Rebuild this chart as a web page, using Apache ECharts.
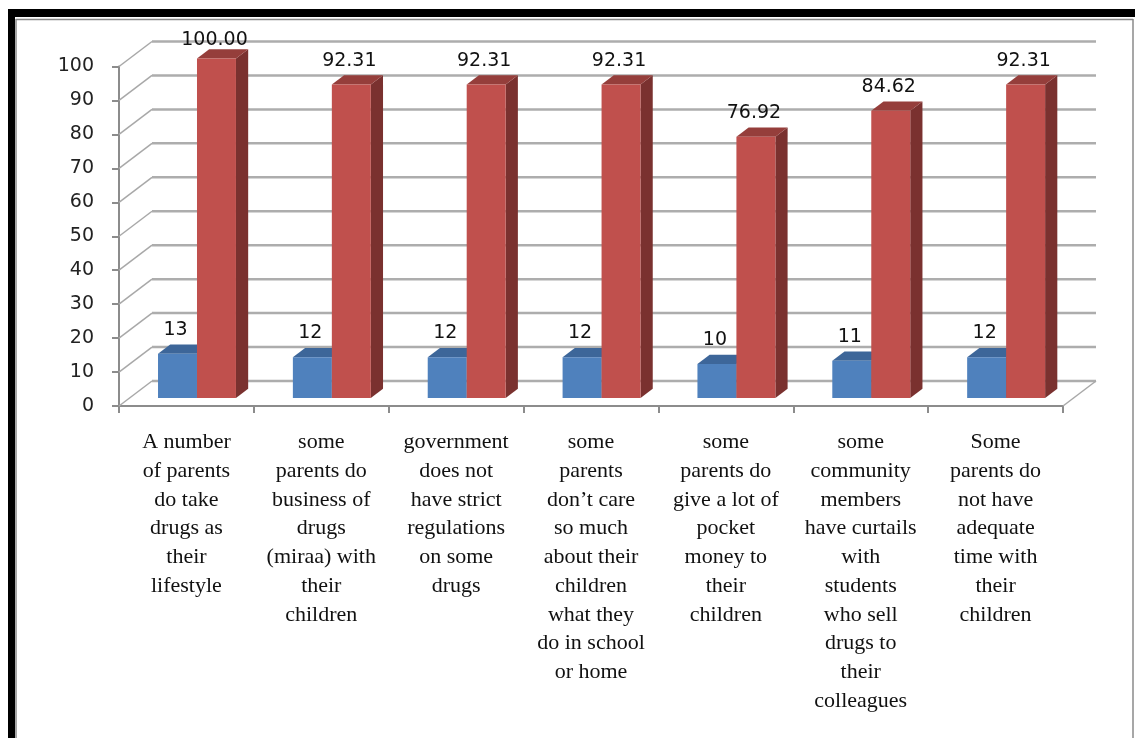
<!DOCTYPE html>
<html>
<head>
<meta charset="utf-8">
<title>Parental factors</title>
<script src="https://cdn.jsdelivr.net/npm/echarts@6/dist/echarts.min.js"></script>
<style>
  html, body { margin: 0; padding: 0; background: #ffffff; }
  #chart { width: 1135px; height: 738px; }
</style>
</head>
<body>
<div id="chart"></div>
<script>
// Category labels (pre-wrapped the way they are laid out under each column)
const categories = [
  'A number\nof parents\ndo take\ndrugs as\ntheir\nlifestyle',
  'some\nparents do\nbusiness of\ndrugs\n(miraa) with\ntheir\nchildren',
  'government\ndoes not\nhave strict\nregulations\non some\ndrugs',
  'some\nparents\ndon\u2019t care\nso much\nabout their\nchildren\nwhat they\ndo in school\nor home',
  'some\nparents do\ngive a lot of\npocket\nmoney to\ntheir\nchildren',
  'some\ncommunity\nmembers\nhave curtails\nwith\nstudents\nwho sell\ndrugs to\ntheir\ncolleagues',
  'Some\nparents do\nnot have\nadequate\ntime with\ntheir\nchildren'
];
// Respondent counts and percentages
const counts = [13, 12, 12, 12, 10, 11, 12];
const percents = [100.00, 92.31, 92.31, 92.31, 76.92, 84.62, 92.31];
// Value axis ticks
const yTicks = [0, 10, 20, 30, 40, 50, 60, 70, 80, 90, 100];

// Oblique projection of the depth axis (pixels for full depth)
const DX = 33, DY = -25;
// Front / back depth fractions of the columns
const F0 = 0.32, F1 = 0.69;
// Column width as a fraction of the category band
const BAR_FRAC = 0.289;

const chart = echarts.init(document.getElementById('chart'), null, { renderer: 'canvas' });

function shift(p, f) { return [p[0] + DX * f, p[1] + DY * f]; }

// Back wall grid lines and the left wall diagonals
function renderWall(params, api) {
  const cs = params.coordSys;
  const v = api.value(1);
  const p = api.coord([0, v]);
  const y = p[1];
  const gx = cs.x, gr = cs.x + cs.width;
  const lineStyle = { stroke: '#adadad', lineWidth: 2.5 };
  const children = [
    { type: 'line', shape: { x1: gx, y1: y, x2: gx + DX, y2: y + DY },
      style: { stroke: '#a8a8a8', lineWidth: 1.5 } },
    { type: 'line', shape: { x1: gx + DX, y1: y + DY, x2: gr + DX, y2: y + DY },
      style: lineStyle }
  ];
  if (v === 0) {
    children.push({ type: 'line', shape: { x1: gr, y1: y, x2: gr + DX, y2: y + DY },
      style: { stroke: '#a8a8a8', lineWidth: 1.5 } });
  }
  return { type: 'group', children: children };
}

function makeBarRenderer(slot, colors, fmt) {
  return function (params, api) {
    const cs = params.coordSys;
    const i = api.value(0), v = api.value(1);
    const topC = api.coord([i, v]);
    const baseC = api.coord([i, 0]);
    const bw = api.size([1, 0])[0] * BAR_FRAC;
    const xl = topC[0] + (slot - 1) * bw;
    const xr = xl + bw;
    const yt = topC[1], yb = baseC[1];

    const fTL = shift([xl, yt], F0), fTR = shift([xr, yt], F0);
    const fBR = shift([xr, yb], F0), fBL = shift([xl, yb], F0);
    const bTL = shift([xl, yt], F1), bTR = shift([xr, yt], F1);
    const bBR = shift([xr, yb], F1);

    const labelY = Math.max(fTL[1] - 24, cs.y - 26);
    const labelX = (fTL[0] + fTR[0]) / 2 - 2;

    return {
      type: 'group',
      children: [
        { type: 'polygon', shape: { points: [fTR, bTR, bBR, fBR] },
          style: { fill: colors.side } },
        { type: 'polygon', shape: { points: [fTL, fTR, bTR, bTL] },
          style: { fill: colors.top } },
        { type: 'polygon', shape: { points: [fTL, fTR, fBR, fBL] },
          style: { fill: colors.front } },
        { type: 'text', x: labelX, y: labelY,
          style: { text: fmt(v), fill: '#111', font: '19px "DejaVu Sans"',
                   align: 'center', verticalAlign: 'middle' } }
      ]
    };
  };
}

const option = {
  backgroundColor: '#ffffff',
  animation: false,
  graphic: [
    { type: 'rect', shape: { x: 8, y: 9, width: 1127, height: 8 }, style: { fill: '#000' }, z: 10 },
    { type: 'rect', shape: { x: 8, y: 9, width: 7, height: 729 }, style: { fill: '#000' }, z: 10 },
    { type: 'line', shape: { x1: 16, y1: 19.5, x2: 1133, y2: 19.5 }, style: { stroke: '#8a8a8a', lineWidth: 1.5 }, z: 10 },
    { type: 'line', shape: { x1: 16, y1: 19, x2: 16, y2: 738 }, style: { stroke: '#8a8a8a', lineWidth: 1.5 }, z: 10 },
    { type: 'line', shape: { x1: 1133, y1: 19, x2: 1133, y2: 738 }, style: { stroke: '#8a8a8a', lineWidth: 1.5 }, z: 10 }
  ],
  grid: { left: 119, top: 66.5, width: 944, height: 339.5, containLabel: false },
  xAxis: {
    type: 'category',
    data: categories,
    boundaryGap: true,
    axisLine: { show: true, lineStyle: { color: '#8c8c8c', width: 2 } },
    axisTick: { show: true, length: 7, alignWithLabel: false, lineStyle: { color: '#8c8c8c', width: 2 } },
    axisLabel: {
      interval: 0, margin: 22, color: '#111',
      fontFamily: 'Liberation Serif', fontSize: 22, lineHeight: 28.75, align: 'center'
    },
    splitLine: { show: false }
  },
  yAxis: {
    type: 'value',
    min: 0, max: 100, interval: 10,
    axisLine: { show: true, lineStyle: { color: '#8c8c8c', width: 2 } },
    axisTick: { show: true, length: 7, lineStyle: { color: '#8c8c8c', width: 2 } },
    axisLabel: { margin: 25, color: '#222', fontFamily: 'DejaVu Sans', fontSize: 19 },
    splitLine: { show: false }
  },
  series: [
    {
      type: 'custom', name: 'wall', z: 1, clip: false, silent: true,
      renderItem: renderWall,
      data: yTicks.map(function (t) { return [0, t]; })
    },
    {
      type: 'custom', name: 'Frequency', z: 3, clip: false,
      renderItem: makeBarRenderer(0, { front: '#4f81bd', top: '#3d6699', side: '#2f5079' },
        function (v) { return String(v); }),
      data: counts.map(function (v, i) { return [i, v]; })
    },
    {
      type: 'custom', name: 'Percentage', z: 3, clip: false,
      renderItem: makeBarRenderer(1, { front: '#c0504d', top: '#953e3b', side: '#7a312f' },
        function (v) { return v.toFixed(2); }),
      data: percents.map(function (v, i) { return [i, v]; })
    }
  ]
};

chart.setOption(option);
</script>
</body>
</html>
